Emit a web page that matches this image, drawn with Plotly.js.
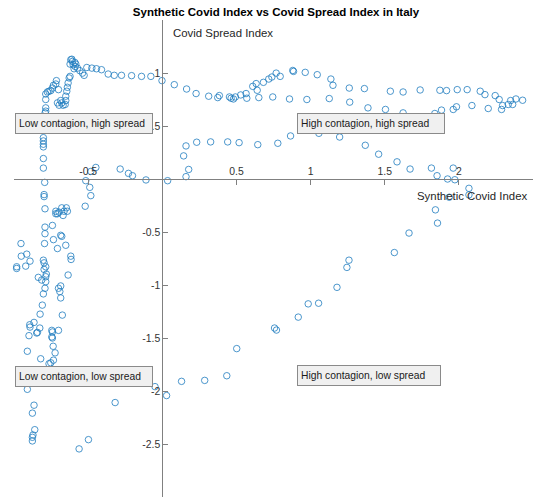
<!DOCTYPE html>
<html>
<head>
<meta charset="utf-8">
<script src="https://cdn.plot.ly/plotly-3.0.1.min.js"></script>
<style>html,body{margin:0;padding:0;background:#fff;}#chart{width:540px;height:499px;}</style>
</head>
<body>
<div id="chart"></div>
<script>
// Synthetic Covid Index (x) and Covid Spread Index (y)
const sciPeak = [-0.617,-0.606,-0.622,-0.601,-0.588,-0.595,-0.572,-0.556,-0.538,-0.527,-0.583,-0.610,-0.590];
const csiPeak = [1.125,1.109,1.084,1.078,1.062,1.040,1.046,1.022,0.999,0.978,1.084,1.130,1.100];

const sciTopLeft = [-0.509,-0.475,-0.444,-0.410,-0.365,-0.324,-0.275,-0.207,-0.140,-0.077,-0.002];
const csiTopLeft = [1.052,1.046,1.040,1.031,0.990,0.978,0.978,0.975,0.968,0.968,0.928];

const sciRise = [-0.786,-0.775,-0.764,-0.752,-0.741,-0.734,-0.718,-0.714,-0.700,-0.786,-0.786,-0.790,-0.786,-0.786,
  -0.707,-0.696,-0.678,-0.669,-0.655,-0.685,-0.651,-0.651,-0.644,-0.640,-0.635,-0.628,-0.622];
const csiRise = [0.802,0.821,0.828,0.834,0.858,0.884,0.896,0.928,0.843,0.750,0.671,0.624,0.640,0.560,
  0.718,0.696,0.718,0.696,0.703,0.740,0.740,0.781,0.828,0.865,0.906,0.953,0.968];

const sciLeftCol = [-0.802,-0.802,-0.802,-0.802,-0.802,-0.802,-0.793,-0.797,-0.797,
  -0.448,-0.482,-0.284,-0.228,-0.201,-0.110,0.036,-0.516,-0.489,-0.482,-0.520];
const csiLeftCol = [0.390,0.359,0.328,0.303,0.193,0.103,-0.032,-0.147,-0.166,
  0.109,0.071,0.094,0.053,0.031,-0.009,-0.016,-0.016,-0.079,-0.157,-0.257];

const sciTopRight = [0.081,0.164,0.228,0.313,0.374,0.385,0.453,0.464,0.480,0.493,0.529,0.565,0.570,0.610,0.633,0.640,0.651,
  0.682,0.718,0.739,0.768,0.795,0.745,0.858,0.880,0.885,0.964,0.975,1.045,1.126,1.137,1.151,1.261,1.264,
  1.363,1.387,1.505,1.538,1.624,1.624,1.739,1.838,1.872,1.917,1.883,1.962,1.984,1.989,2.056,2.088,2.144,
  2.176,2.198,2.245,2.272,2.288,2.295,2.333,2.349,2.363,2.385,2.430];
const csiTopRight = [0.890,0.849,0.806,0.781,0.768,0.787,0.774,0.762,0.755,0.774,0.793,0.806,0.762,0.874,0.900,0.837,0.768,
  0.912,0.943,0.962,0.999,0.968,0.774,0.755,1.024,1.015,1.006,0.750,0.984,0.759,0.943,0.884,0.858,0.725,
  0.853,0.671,0.656,0.828,0.821,0.624,0.840,0.618,0.837,0.834,0.650,0.656,0.681,0.843,0.843,0.693,0.828,
  0.796,0.665,0.787,0.750,0.656,0.693,0.703,0.740,0.703,0.755,0.743];

const sciMidBand = [0.160,0.232,0.326,0.441,0.518,0.644,0.779,0.865,1.056,1.196,0.144,0.178,0.160,
  1.369,1.459,1.583,1.671,1.815,1.853,1.924,1.962,1.973];
const csiMidBand = [0.312,0.347,0.350,0.350,0.343,0.324,0.337,0.406,0.431,0.396,0.218,0.090,0.022,
  0.318,0.234,0.162,0.094,0.103,0.031,0.000,0.103,-0.007];

const sciLowRight = [2.068,2.068,1.935,1.842,1.856,1.664,1.565,1.259,1.245,1.178,1.054,0.984,0.917,0.757,0.770,
  0.502,0.435,0.286,0.130,0.029,-0.049,-0.318];
const csiLowRight = [-0.088,-0.150,-0.172,-0.291,-0.416,-0.510,-0.694,-0.766,-0.834,-1.022,-1.172,-1.178,-1.303,-1.406,-1.425,
  -1.600,-1.856,-1.900,-1.909,-2.043,-1.959,-2.109];

const sciLowLeft = [-0.791,-0.718,-0.707,-0.696,-0.678,-0.662,-0.647,-0.640,-0.669,-0.718,-0.791,-0.741,-0.791,-0.734,
  -0.685,-0.678,-0.707,-0.651,-0.794,-0.953,-0.951,-0.914,-0.892,-0.921,-0.982,-0.982,-0.802,-0.797,-0.786,
  -0.797,-0.782,-0.786,-0.836,-0.813,-0.786,-0.617,-0.615,-0.635,-0.791,-0.802,-0.700,-0.685,-0.691,-0.685,
  -0.809,-0.824,-0.674,-0.865,-0.894,-0.892,-0.826,-0.847,-0.899,-0.745,-0.741,-0.700,-0.745,-0.842,-0.741,
  -0.736,-0.723,-0.910,-0.820,-0.734,-0.752,-0.764,-0.910,-0.865,-0.876,-0.860,-0.872,-0.876,-0.876,-0.498,-0.561];
const csiLowLeft = [-0.281,-0.304,-0.328,-0.313,-0.272,-0.304,-0.272,-0.304,-0.344,-0.328,-0.454,-0.438,-0.516,-0.572,
  -0.531,-0.541,-0.656,-0.625,-0.609,-0.609,-0.728,-0.709,-0.775,-0.822,-0.828,-0.844,-0.766,-0.791,-0.828,
  -0.853,-0.897,-0.922,-0.928,-0.953,-0.969,-0.728,-0.759,-0.906,-1.031,-1.084,-1.031,-1.009,-1.062,-1.122,
  -1.190,-1.275,-1.284,-1.353,-1.375,-1.397,-1.406,-1.453,-1.478,-1.428,-1.443,-1.428,-1.490,-1.447,-1.500,
  -1.578,-1.640,-1.625,-1.696,-1.709,-1.734,-1.743,-1.984,-2.134,-2.209,-2.365,-2.415,-2.437,-2.471,-2.459,-2.546];

const xTickVals = [-1,-0.5,0,0.5,1,1.5,2,2.5];
const xTickText = ['','-0.5','','0.5','1','1.5','2',''];
const yTickVals = [-3,-2.5,-2,-1.5,-1,-0.5,0,0.5,1,1.5];
const yTickText = ['','-2.5','-2','-1.5','-1','-0.5','','0.5','1',''];

const xs = [].concat(sciPeak, sciTopLeft, sciRise, sciLeftCol, sciTopRight, sciMidBand, sciLowRight, sciLowLeft);
const ys = [].concat(csiPeak, csiTopLeft, csiRise, csiLeftCol, csiTopRight, csiMidBand, csiLowRight, csiLowLeft);

const FONT = 'Liberation Sans, Arial, Helvetica, sans-serif';
const AXC = '#808080';

const trace = {
  type: 'scatter', mode: 'markers', x: xs, y: ys,
  marker: {symbol: 'circle-open', size: 6.5, color: '#1f7cbf', line: {width: 0.8, color: '#1f7cbf'}},
  hoverinfo: 'x+y', cliponaxis: false
};

function box(text, x, y, w) {
  return {text: text, x: x, y: y, xref: 'x', yref: 'y', xanchor: 'left', yanchor: 'top',
    showarrow: false, align: 'left', width: w, height: 13, borderpad: 3, borderwidth: 1,
    bordercolor: '#8a8a8a', bgcolor: '#f0f0f0', font: {family: FONT, size: 10.3, color: '#1a1a1a'}};
}

const layout = {
  width: 540, height: 499,
  margin: {l: 14, r: 7, t: 20, b: 2, pad: 0},
  paper_bgcolor: '#ffffff', plot_bgcolor: '#ffffff',
  showlegend: false,
  title: {text: 'Synthetic Covid Index vs Covid Spread Index in Italy',
    font: {family: FONT, size: 11.5, color: '#000000', weight: 'bold'},
    x: 276/540, xref: 'container', xanchor: 'center', y: 1 - 11.7/499, yref: 'container', yanchor: 'middle'},
  xaxis: {range: [-1, 2.5], anchor: 'free', position: 3/4.5, side: 'top',
    showline: true, linecolor: AXC, linewidth: 1, ticks: 'inside', ticklen: 5, tickwidth: 1, tickcolor: AXC,
    tickvals: xTickVals, ticktext: xTickText, tickfont: {family: FONT, size: 10.4, color: '#333333'},
    showgrid: false, zeroline: false, fixedrange: true},
  yaxis: {range: [-3, 1.5], anchor: 'free', position: 1/3.5, side: 'left',
    showline: true, linecolor: AXC, linewidth: 1, ticks: 'inside', ticklen: 5, tickwidth: 1, tickcolor: AXC,
    tickvals: yTickVals, ticktext: yTickText, tickfont: {family: FONT, size: 10.4, color: '#333333'},
    showgrid: false, zeroline: false, fixedrange: true},
  annotations: [
    {text: 'Covid Spread Index', x: 0.061, y: 1.374, xref: 'x', yref: 'y', xanchor: 'left', yanchor: 'middle',
      showarrow: false, font: {family: FONT, size: 11.4, color: '#262626'}},
    {text: 'Synthetic Covid Index', x: 2.475, y: -0.163, xref: 'x', yref: 'y', xanchor: 'right', yanchor: 'middle',
      showarrow: false, font: {family: FONT, size: 11.4, color: '#262626'}},
    box('Low contagion, high spread', -0.993, 0.619, 130),
    box('High contagion, high spread', 0.910, 0.619, 140),
    box('Low contagion, low spread', -0.993, -1.766, 130),
    box('High contagion, low spread', 0.907, -1.759, 136)
  ]
};

Plotly.newPlot('chart', [trace], layout, {displayModeBar: false, staticPlot: true});
</script>
</body>
</html>
